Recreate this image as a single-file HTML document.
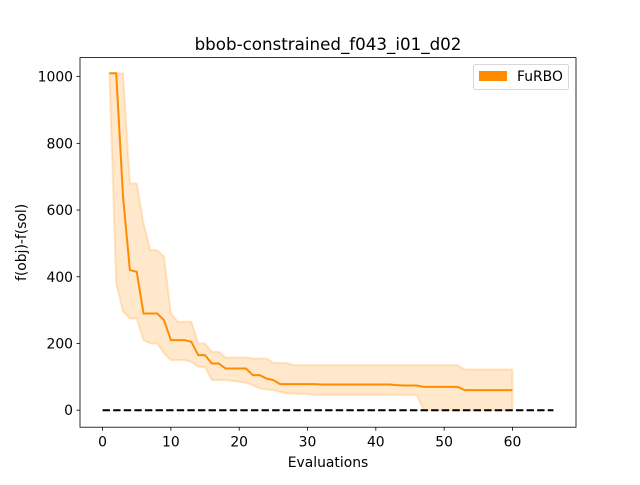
<!DOCTYPE html>
<html><head><meta charset="utf-8"><style>
body{margin:0;background:#fff;font-family:"Liberation Sans","DejaVu Sans",sans-serif}
svg text{font-family:"DejaVu Sans","Liberation Sans",sans-serif}
</style></head><body>
<svg id="c" width="640" height="480"></svg>
<script>
const evals=[];for(let i=1;i<=60;i++)evals.push(i);
const meanVals=[1010,1010,640,420,415,290,290,290,270,210,210,210,205,165,165,140,140,125,125,125,125,105,105,95,90,78,78,78,78,78,78,77,77,77,77,77,77,77,77,77,77,77,75,74,74,74,70,70,70,70,70,70,60,60,60,60,60,60,60,60];
const upperVals=[1010,1010,1010,680,680,560,480,480,460,290,265,265,265,200,200,175,175,158,158,158,158,155,155,155,142,142,142,135,135,135,135,135,135,135,135,135,135,135,135,135,135,135,135,135,135,135,135,135,135,135,135,135,122,122,122,122,122,122,122,122];
const lowerVals=[1010,380,295,275,275,210,200,200,170,150,150,150,145,130,130,90,90,90,88,85,82,75,65,62,60,55,50,50,48,48,45,45,45,45,45,45,45,45,45,45,45,45,45,45,45,45,0,0,0,0,0,0,0,0,0,0,0,0,0,0];
const xTicks=[0,10,20,30,40,50,60];
const yTicks=[0,200,400,600,800,1000];
const L=80,R=576,T=57.6,B=427.2;
const xmin=-3.3,xmax=69.3,ymin=-51,ymax=1057;
const X=v=>L+(v-xmin)/(xmax-xmin)*(R-L);
const Y=v=>B-(v-ymin)/(ymax-ymin)*(B-T);
const svg=document.getElementById('c');const NS='http://www.w3.org/2000/svg';
function mk(t,a,p){const e=document.createElementNS(NS,t);for(const k in a)e.setAttribute(k,a[k]);(p||svg).appendChild(e);return e;}
let d='M'+evals.map((x,i)=>X(x)+','+Y(upperVals[i])).join('L')+'L'+evals.map((x,i)=>X(x)+','+Y(lowerVals[i])).reverse().join('L')+'Z';
const band=mk('path',{d:d,fill:'#ff8c00','fill-opacity':0.2,stroke:'#ff8c00','stroke-opacity':0.2,'stroke-width':2});


const line=mk('path',{d:'M'+evals.map((x,i)=>X(x)+','+Y(meanVals[i])).join('L'),fill:'none',stroke:'#ff8c00','stroke-width':2});


const opt=mk('line',{x1:X(0),x2:X(66),y1:Y(0),y2:Y(0),stroke:'#000','stroke-width':2,'stroke-dasharray':'7.4,3.2'});


const fr=mk('rect',{x:L,y:T,width:R-L,height:B-T,fill:'none',stroke:'#000','stroke-width':0.8});


xTicks.forEach(v=>{mk('line',{x1:X(v),x2:X(v),y1:B,y2:B+3.5,stroke:'#000','stroke-width':0.8});
const t=mk('text',{x:X(v),y:B+19.5,'text-anchor':'middle','font-size':13.9});t.textContent=v;

});
yTicks.forEach(v=>{mk('line',{x1:L-3.5,x2:L,y1:Y(v),y2:Y(v),stroke:'#000','stroke-width':0.8});
const t=mk('text',{x:L-7,y:Y(v)+5,'text-anchor':'end','font-size':13.9});t.textContent=v;

});
const xt=mk('text',{x:(L+R)/2,y:467,'text-anchor':'middle','font-size':13.9});xt.textContent='Evaluations';


const yt=mk('text',{x:26,y:(T+B)/2,'text-anchor':'middle','font-size':13.9,transform:'rotate(-90 26 '+(T+B)/2+')'});yt.textContent='f(obj)-f(sol)';


const tt=mk('text',{x:(L+R)/2,y:50,'text-anchor':'middle','font-size':16.7});tt.textContent='bbob-constrained_f043_i01_d02';


const lg=mk('g',{});


mk('rect',{x:473.5,y:64.5,width:95,height:25,rx:2,fill:'#fff',stroke:'#ccc','stroke-width':0.8},lg);
mk('rect',{x:479,y:71,width:28,height:10,fill:'#ff8c00'},lg);
const lt=mk('text',{x:517,y:81,'font-size':13.9},lg);lt.textContent='FuRBO';


</script>
</body></html>
